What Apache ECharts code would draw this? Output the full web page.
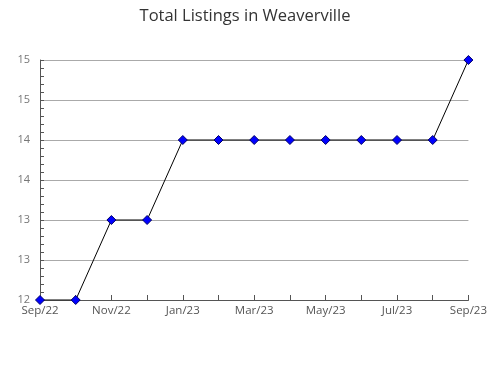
<!DOCTYPE html>
<html><head><meta charset="utf-8">
<script src="https://cdn.jsdelivr.net/npm/echarts@6/dist/echarts.min.js"></script>
<style>html,body{margin:0;padding:0;background:#fff}#c{width:490px;height:380px}</style>
</head><body><div id="c"></div>
<script>
const categories = ['Sep/22','Oct/22','Nov/22','Dec/22','Jan/23','Feb/23','Mar/23','Apr/23','May/23','Jun/23','Jul/23','Aug/23','Sep/23'];
const listings = [12,12,13,13,14,14,14,14,14,14,14,14,15];
const yTickLabels = ['12','13','13','14','14','15','15'];
const chart = echarts.init(document.getElementById('c'));
const font = '"Open Sans", "Noto Sans", sans-serif';
chart.setOption({
  animation: false,
  title: {text: 'Total Listings in Weaverville', left: 'center', top: 3,
    textStyle: {fontFamily: font, fontSize: 16.5, fontWeight: 'normal', color: '#333'}},
  grid: {left: 40, right: 20, top: 60, bottom: 80, containLabel: false},
  xAxis: {type: 'category', data: categories, boundaryGap: false,
    axisLine: {lineStyle: {color: '#555'}},
    axisTick: {inside: true, length: 5, lineStyle: {color: '#555'}, interval: 0},
    axisLabel: {interval: 1, color: '#555', fontFamily: font, fontSize: 11.5, margin: 5},
    splitLine: {show: false}},
  yAxis: {type: 'value', min: 12, max: 15, interval: 0.5,
    axisLine: {show: true, lineStyle: {color: '#555'}},
    axisTick: {show: true, inside: true, length: 4, lineStyle: {color: '#555'}},
    minorTick: {show: true, splitNumber: 5, length: 4, lineStyle: {color: '#555'}},
    axisLabel: {color: '#777', fontFamily: font, fontSize: 11, margin: 10,
      formatter: (v, i) => yTickLabels[Math.round((v - 12) / 0.5)]},
    splitLine: {show: true, lineStyle: {color: '#aaa', width: 1}}},
  series: [{type: 'line', data: listings, symbol: 'diamond', symbolSize: 9,
    lineStyle: {color: '#000', width: 1},
    itemStyle: {color: '#0000ff', borderColor: '#000066', borderWidth: 1}}]
});
</script></body></html>
